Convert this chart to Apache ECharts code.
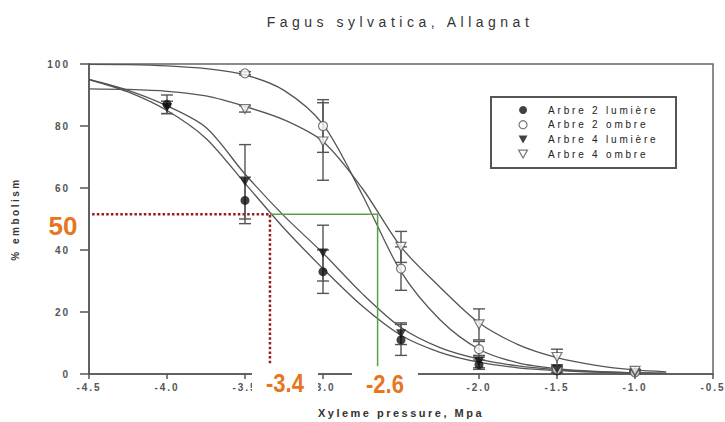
<!DOCTYPE html>
<html><head><meta charset="utf-8">
<script src="https://cdn.jsdelivr.net/npm/echarts@6/dist/echarts.min.js"></script>
<style>html,body{margin:0;padding:0;background:#fff}#chart{width:725px;height:422px}</style>
</head><body><div id="chart"></div>
<script>
// ---- texts ----
const titleText = 'Fagus sylvatica, Allagnat';
const xName = 'Xyleme pressure, Mpa';
const yName = '% embolism';
const seriesNames = ['Arbre 2 lumière', 'Arbre 2 ombre', 'Arbre 4 lumière', 'Arbre 4 ombre'];
const annotTexts = ['50', '-3.4', '-2.6'];

// ---- measured points (x = pressure) ----
const pointX   = [-4.0, -3.5, -3.0, -2.5, -2.0, -1.5, -1.0];
const a2Lum    = [87,   56,   33,   11,   3,    1,    0.5];
const a2LumErr = [3,    7.5,  7,    5,    1.5,  1,    0.5];
const a2Omb    = [null, 97,   80,   34,   8,    1.5,  0.5];
const a2OmbErr = [null, 0.5,  8.5,  7,    2.5,  1,    0.5];
const a4Lum    = [86,   62,   39,   13,   4,    1.5,  0.5];
const a4LumErr = [2,    12,   9,    3.5,  2,    1,    0.5];
const a4Omb    = [null, 85.5, 75,   41,   16,   5.5,  1];
const a4OmbErr = [null, 1,    12.5, 5,    5,    2.5,  0.5];

// ---- fitted curves ----
const curveX  = [-4.5, -4.25, -4.0, -3.75, -3.5, -3.25, -3.0, -2.75, -2.5, -2.25, -2.0, -1.75, -1.5, -1.25, -1.0, -0.8];
const fit2Lum = [95,   91,    85,   76,    61.5, 47,    34,   22,    12.5, 7,     3.8,  2,     1.1,  0.6,   0.3,  0.2];
const fit4Lum = [95,   91.5,  86.5, 79.5,  64.5, 51,    39,   26,    15,   8.5,   4.8,  2.6,   1.4,  0.7,   0.4,  0.2];
const fit2Omb = [99.9, 99.8,  99.4, 98.5,  96.5, 91.5,  80.5, 58,    33,   17.5,  8,    3.6,   1.7,  0.8,   0.4,  0.2];
const fit4Omb = [92,   91.8,  91.2, 89.7,  86.3, 82,    75,   60,    41,   28,    16.5, 9.5,   5.3,  2.8,   1.3,  0.7];

// ---- P50 reference lines ----
const ref50Y = 51.5;
const refStartX = -4.48;
const refX1 = -3.34;
const refX2 = -2.65;
const refEndY1 = 2.8;
const refEndY2 = 2.5;

// ---- axes ----
const xMin = -4.5, xMax = -0.5, xStep = 0.5;
const yMin = 0, yMax = 100, yStep = 20;

const ORANGE = '#E6761F';
const INK = '#555';

function zip(xs, ys) { return xs.map((x, i) => [x, ys[i]]).filter(p => p[1] !== null); }
function errs(xs, ys, es) {
  return xs.map((x, i) => ys[i] === null ? null : [x, ys[i] - es[i], ys[i] + es[i]]).filter(Boolean);
}
const errData = [].concat(
  errs(pointX, a2Lum, a2LumErr), errs(pointX, a2Omb, a2OmbErr),
  errs(pointX, a4Lum, a4LumErr), errs(pointX, a4Omb, a4OmbErr));

function errRender(params, api) {
  const x = api.value(0);
  const lo = api.coord([x, api.value(1)]);
  const hi = api.coord([x, api.value(2)]);
  const cap = 6;
  const st = { stroke: INK, lineWidth: 1.4 };
  return { type: 'group', children: [
    { type: 'line', shape: { x1: lo[0], y1: lo[1], x2: hi[0], y2: hi[1] }, style: st },
    { type: 'line', shape: { x1: lo[0] - cap, y1: lo[1], x2: lo[0] + cap, y2: lo[1] }, style: st },
    { type: 'line', shape: { x1: hi[0] - cap, y1: hi[1], x2: hi[0] + cap, y2: hi[1] }, style: st }
  ]};
}

const downTri = 'path://M0,0L10,0L5,9Z';
const openStyle = { color: '#fff', borderColor: '#555', borderWidth: 1.2 };
const fillStyle = { color: '#111' };

function curve(name, ys) {
  return { type: 'line', name: name, data: zip(curveX, ys), symbol: 'none', smooth: 0.3,
    lineStyle: { color: INK, width: 1.3 }, z: 3, silent: true };
}
function pts(name, ys, symbol, style, size, rot) {
  return { type: 'scatter', name: name, data: zip(pointX, ys), symbol: symbol, symbolSize: size,
    symbolRotate: rot || 0, itemStyle: style, z: 6 };
}

const chart = echarts.init(document.getElementById('chart'), null, { renderer: 'svg' });
chart.setOption({
  animation: false,
  backgroundColor: '#fff',
  title: { text: titleText, left: 400, top: 15, textAlign: 'center', textVerticalAlign: 'top', padding: 0,
    textStyle: { fontFamily: 'Liberation Sans, Arial', fontSize: 14, fontWeight: 'normal', color: '#333' } },
  grid: { left: 89, right: 12, top: 64, bottom: 48, show: true, borderColor: '#666', borderWidth: 1.5,
    containLabel: false, outerBoundsMode: 'none' },
  legend: {
    orient: 'vertical', left: 518, top: 105, itemWidth: 10, itemHeight: 8, itemGap: 4.7,
    selectedMode: false, padding: 0,
    textStyle: { fontFamily: 'Liberation Sans, Arial', fontSize: 10, color: '#222', lineHeight: 10,
      padding: [0, 0, 0, 15] },
    data: [
      { name: seriesNames[0], icon: 'circle', itemStyle: fillStyle },
      { name: seriesNames[1], icon: 'circle', itemStyle: openStyle },
      { name: seriesNames[2], icon: downTri, itemStyle: fillStyle },
      { name: seriesNames[3], icon: downTri, itemStyle: openStyle }
    ]
  },
  xAxis: [{
    type: 'value', min: xMin, max: xMax, interval: xStep,
    name: xName, nameLocation: 'middle', nameGap: 33,
    nameTextStyle: { fontFamily: 'Liberation Sans, Arial', fontSize: 11, fontWeight: 'bold', color: '#333' },
    axisLine: { show: true, onZero: false, lineStyle: { color: INK, width: 1.5 } },
    axisTick: { show: true, inside: false, length: 5, lineStyle: { color: INK, width: 1.5 } },
    axisLabel: { margin: 8, formatter: v => v.toFixed(1), fontFamily: 'Liberation Sans, Arial',
      fontSize: 10, fontWeight: 'bold', color: '#555', showMaxLabel: true, showMinLabel: true },
    splitLine: { show: false }
  }],
  yAxis: [{
    type: 'value', min: yMin, max: yMax, interval: yStep,
    name: yName, nameLocation: 'middle', nameGap: 69, nameRotate: 90,
    nameTextStyle: { fontFamily: 'Liberation Sans, Arial', fontSize: 10, fontWeight: 'bold', color: '#333' },
    axisLine: { show: true, onZero: false, lineStyle: { color: INK, width: 1.5 } },
    axisTick: { show: true, inside: false, length: 9, lineStyle: { color: INK, width: 1.5 } },
    axisLabel: { margin: 19, fontFamily: 'Liberation Sans, Arial', fontSize: 10, fontWeight: 'bold', color: '#555' },
    splitLine: { show: false }
  }],
  series: [
    curve('fit2L', fit2Lum), curve('fit4L', fit4Lum), curve('fit2O', fit2Omb), curve('fit4O', fit4Omb),
    { type: 'line', name: 'p50a', data: [[refStartX, ref50Y], [refX1, ref50Y], [refX1, refEndY1]], symbol: 'none',
      lineStyle: { color: '#9B1B1B', width: 2.5, type: [2.5, 2.2] }, z: 4, silent: true },
    { type: 'line', name: 'p50b', data: [[refX1, ref50Y], [refX2, ref50Y], [refX2, refEndY2]], symbol: 'none',
      lineStyle: { color: '#5A9E46', width: 1.5 }, z: 4, silent: true },
    { type: 'custom', name: 'err', data: errData, renderItem: errRender, z: 5, silent: true },
    pts(seriesNames[0], a2Lum, 'circle', fillStyle, 9),
    pts(seriesNames[1], a2Omb, 'circle', openStyle, 9),
    pts(seriesNames[2], a4Lum, 'triangle', fillStyle, [10, 9], 180),
    pts(seriesNames[3], a4Omb, 'triangle', openStyle, [10, 9], 180)
  ],
  graphic: [
    { type: 'rect', shape: { x: 491, y: 97, width: 185, height: 71 }, style: { fill: 'none', stroke: '#555', lineWidth: 2 }, z: 10 },
    { type: 'rect', shape: { x: 252, y: 369, width: 66, height: 30 }, style: { fill: '#fff' }, z: 50 },
    { type: 'rect', shape: { x: 352, y: 369, width: 66, height: 30 }, style: { fill: '#fff' }, z: 50 },
    { type: 'text', x: 285, y: 384, scaleX: 0.88, z: 51,
      style: { text: annotTexts[1], fill: ORANGE, font: 'bold 25px "Liberation Sans", Arial', align: 'center', verticalAlign: 'middle' } },
    { type: 'text', x: 385, y: 385, scaleX: 0.88, z: 51,
      style: { text: annotTexts[2], fill: ORANGE, font: 'bold 25px "Liberation Sans", Arial', align: 'center', verticalAlign: 'middle' } },
    { type: 'text', x: 63, y: 226, z: 51,
      style: { text: annotTexts[0], fill: ORANGE, font: 'bold 26px "Liberation Sans", Arial', align: 'center', verticalAlign: 'middle' } }
  ]
});

function applySpacing() {
  document.querySelectorAll('#chart svg text').forEach(t => {
    const s = t.textContent;
    let ls = '2px';
    if (s === titleText) ls = '4.5px';
    else if (seriesNames.includes(s)) ls = '2.8px';
    else if (s === xName || s === yName) ls = '2.5px';
    else if (annotTexts.includes(s)) ls = '0px';
    t.style.letterSpacing = ls;
  });
}
chart.on('finished', applySpacing);
applySpacing();
setTimeout(applySpacing, 50);
setTimeout(applySpacing, 300);
</script></body></html>
